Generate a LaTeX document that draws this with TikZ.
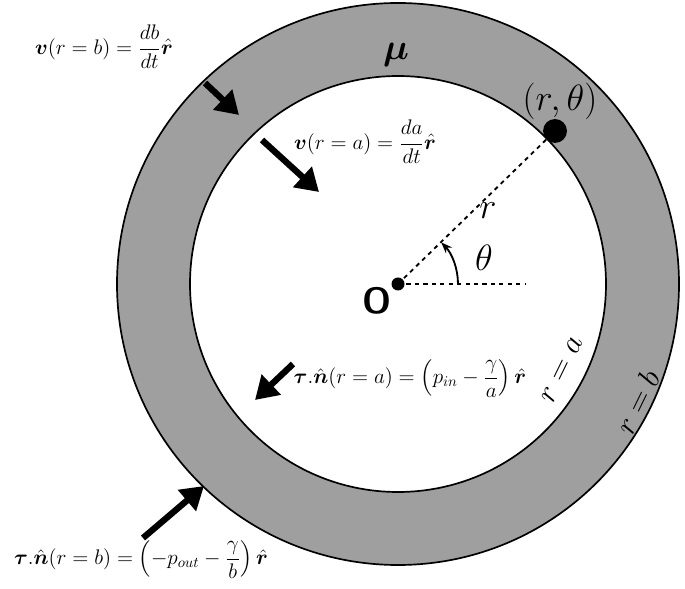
\documentclass[tikz,border=0pt]{standalone}
\usepackage{amsmath,bm}
\usepackage{fix-cm}
\usetikzlibrary{arrows.meta}
\tikzset{bigarrow/.style={line width=4.5pt,-{Triangle[length=16pt,width=19pt]}},
lbl/.style={inner sep=1pt,font=\fontsize{15}{18}\selectfont},
big/.style={inner sep=1pt,font=\fontsize{26}{30}\selectfont},
rot/.style={inner sep=1pt,font=\fontsize{22}{26}\selectfont}}
\begin{document}
\begin{tikzpicture}[x=0.025cm,y=-0.025cm]
\useasboundingbox (0,0) rectangle (685,589);
\coordinate (O) at (398,284);
\fill[gray!75,draw=black,line width=1.2pt] (O) circle[radius=281];
\fill[white,draw=black,line width=1.2pt] (O) circle[radius=208];
\node[circle,fill=black,inner sep=0pt,minimum size=17pt] (P) at (555,131) {};
\draw[dashed,line width=1.3pt] (O) -- (P);
\coordinate (H) at (525,284);
\draw[dashed,line width=1.3pt] (O) -- (H);
\fill (O) circle[radius=6.5];
\draw[line width=1.3pt,-{Stealth[length=8pt]}] (458,284) arc[start angle=0,end angle=-44,radius=60];
\node[big] (th) at (484,258) {$\theta$};
\node[big] (rr) at (488,211) {$r$};
\node[big,anchor=east] (Ol) at (393,301) {\sffamily\bfseries O};
\node[big] (pt) at (560,101) {$(r,\theta)$};
\node[big] (mu) at (396,55) {$\bm{\mu}$};
\node[rot,rotate=64] (ra) at (562,370) {$r=a$};
\node[rot,rotate=64] (rb) at (637,402) {$r=b$};
\coordinate (a1s) at (205,83); \coordinate (a1e) at (239,115);
\coordinate (a2s) at (262,140); \coordinate (a2e) at (319,192);
\coordinate (a3s) at (293,364); \coordinate (a3e) at (255,400);
\coordinate (a4s) at (143,538); \coordinate (a4e) at (204,486);
\draw[bigarrow] (a1s) -- (a1e);
\draw[bigarrow] (a2s) -- (a2e);
\draw[bigarrow] (a3s) -- (a3e);
\draw[bigarrow] (a4s) -- (a4e);
\node[lbl] (l1) at (104,47) {$\bm{v}(r=b)=\dfrac{db}{dt}\hat{\bm{r}}$};
\node[lbl] (l2) at (365,142) {$\bm{v}(r=a)=\dfrac{da}{dt}\hat{\bm{r}}$};
\node[lbl] (l3) at (410,379) {$\bm{\tau}.\hat{\bm{n}}(r=a)=\left(p_{in}-\dfrac{\gamma}{a}\right)\hat{\bm{r}}$};
\node[lbl] (l4) at (141,560) {$\bm{\tau}.\hat{\bm{n}}(r=b)=\left(-p_{out}-\dfrac{\gamma}{b}\right)\hat{\bm{r}}$};
\end{tikzpicture}
\end{document}
